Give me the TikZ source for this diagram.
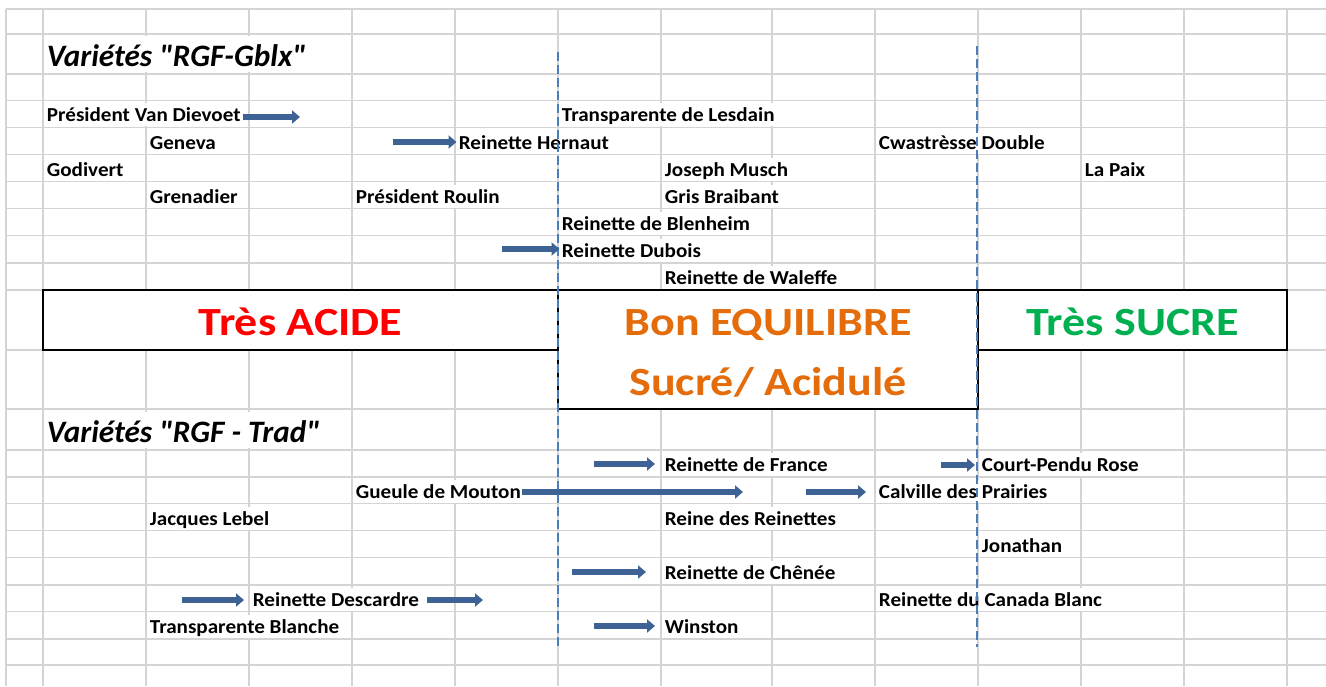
\documentclass[tikz,border=0pt]{standalone}
\usepackage{fontspec}
\setmainfont{Carlito}
\newfontfamily\cellfont{Carlito}[FakeStretch=1.066]
\newfontfamily\zonefont{Carlito}[FakeStretch=1.15]
\usetikzlibrary{arrows.meta}

\definecolor{gridgray}{RGB}{212,212,212}
\definecolor{lineblue}{RGB}{74,126,187}
\definecolor{arrowblue}{RGB}{62,98,148}
\definecolor{acidred}{RGB}{255,0,0}
\definecolor{eqorange}{RGB}{228,108,10}
\definecolor{sugargreen}{RGB}{0,176,80}

\tikzset{
  gridline/.style={draw=gridgray, line width=0.6pt},
  cell/.style={anchor=base west, fill=white, inner xsep=1pt, inner ysep=0pt,
    text height=9.25pt, text depth=2.25pt, font=\cellfont\fontsize{9.9}{12}\selectfont\bfseries},
  heading/.style={anchor=base west, fill=white, inner xsep=1pt, inner ysep=0pt,
    text height=15pt, text depth=3pt, font=\fontsize{15.6}{19}\selectfont\bfseries\itshape},
  zone/.style={draw=black, line width=1.2pt, fill=white},
  zonetext/.style={anchor=base, font=\zonefont\fontsize{20}{24}\selectfont\bfseries},
  frontier/.style={draw=lineblue, line width=1pt, dash pattern=on 4.5pt off 2pt},
  evol/.style={draw=arrowblue, line width=2.75pt, -{Triangle[width=6.5pt,length=4pt]}},
}

\begin{document}
\begin{tikzpicture}[x=0.5pt, y=-0.5pt]
    \useasboundingbox (0,0) rectangle (1326,686);

    % sheet grid
    \foreach \gx in {6,43,146,249,352,455,558,661,772,875,978,1081,1184,1287}
        \draw[gridline] (\gx,9) -- (\gx,686);
    \foreach \gy in {9,34,74,100.3,127.4,154.5,181.6,208.7,235.8,262.9,290,350,409,450,477,503.5,530.7,557.5,585,611.8,639,665}
        \draw[gridline] (6,\gy) -- (1326,\gy);

    % taste zones
    \draw[zone] (43,290) rectangle (558,350);
    \draw[zone] (558,290) rectangle (978,409);
    \draw[zone] (978,290) rectangle (1287,350);
    \node[zonetext, text=acidred] (acide) at (300.5,335) {Très ACIDE};
    \node[zonetext, text=eqorange] (equilibre) at (768,335) {Bon EQUILIBRE};
    \node[zonetext, text=eqorange] (acidule) at (768,395) {Sucré/ Acidulé};
    \node[zonetext, text=sugargreen] (sucre) at (1132.5,335) {Très SUCRE};

    % RGF-Gblx
    \node[heading] (gblx) at (44.5,66) {Variétés \textquotedbl RGF-Gblx\textquotedbl};
    \node[cell] (vandievoet) at (44.5,121.9) {Président Van Dievoet};
    \node[cell] (lesdain) at (559.5,121.9) {Transparente de Lesdain};
    \node[cell] (geneva) at (147.5,149) {Geneva};
    \node[cell] (hernaut) at (456.5,149) {Reinette Hernaut};
    \node[cell] (cwastresse) at (876.5,149) {Cwastrèsse Double};
    \node[cell] (godivert) at (44.5,176.1) {Godivert};
    \node[cell] (musch) at (662.5,176.1) {Joseph Musch};
    \node[cell] (paix) at (1082.5,176.1) {La Paix};
    \node[cell] (grenadier) at (147.5,203.2) {Grenadier};
    \node[cell] (roulin) at (353.5,203.2) {Président Roulin};
    \node[cell] (braibant) at (662.5,203.2) {Gris Braibant};
    \node[cell] (blenheim) at (559.5,230.3) {Reinette de Blenheim};
    \node[cell] (dubois) at (559.5,257.4) {Reinette Dubois};
    \node[cell] (waleffe) at (662.5,284.5) {Reinette de Waleffe};

    % RGF - Trad
    \node[heading] (trad) at (44.5,442) {Variétés \textquotedbl RGF - Trad\textquotedbl};
    \node[cell] (france) at (662.5,471.5) {Reinette de France};
    \node[cell] (courtpendu) at (979.5,471.5) {Court-Pendu Rose};
    \node[cell] (gueule) at (353.5,498) {Gueule de Mouton};
    \node[cell] (calville) at (876.5,498) {Calville des Prairies};
    \node[cell] (lebel) at (147.5,525.2) {Jacques Lebel};
    \node[cell] (reinedes) at (662.5,525.2) {Reine des Reinettes};
    \node[cell] (jonathan) at (979.5,552) {Jonathan};
    \node[cell] (chenee) at (662.5,579.5) {Reinette de Chênée};
    \node[cell] (descardre) at (250.5,606.3) {Reinette Descardre};
    \node[cell] (canada) at (876.5,606.3) {Reinette du Canada Blanc};
    \node[cell] (tblanche) at (147.5,633.5) {Transparente Blanche};
    \node[cell] (winston) at (662.5,633.5) {Winston};

    % zone limits
    \draw[frontier] (557.5,52) -- (557.5,650);
    \draw[frontier] (977,46) -- (977,647);

    % shifts
    \coordinate (t1) at (243,117);  \coordinate (h1) at (300,117);
    \coordinate (t2) at (393,142);
    \coordinate (t3) at (502,249);
    \coordinate (t4) at (594,464);  \coordinate (h4) at (655,464);
    \coordinate (t5) at (522,492);  \coordinate (h5) at (743,492);
    \coordinate (t6) at (806,492);  \coordinate (h6) at (866,492);
    \coordinate (t7) at (941,465);  \coordinate (h7) at (975,465);
    \coordinate (t8) at (572,572);  \coordinate (h8) at (646,572);
    \coordinate (t9) at (182,600);  \coordinate (h9) at (244,600);
    \coordinate (t10) at (427,600); \coordinate (h10) at (483,600);
    \coordinate (t11) at (594,626); \coordinate (h11) at (655,626);
    \draw[evol] (t1) -- (h1);
    \draw[evol] (t2) -- (t2 -| hernaut.west);
    \draw[evol] (t3) -- (t3 -| dubois.west);
    \draw[evol] (t4) -- (h4);
    \draw[evol] (t5) -- (h5);
    \draw[evol] (t6) -- (h6);
    \draw[evol] (t7) -- (h7);
    \draw[evol] (t8) -- (h8);
    \draw[evol] (t9) -- (h9);
    \draw[evol] (t10) -- (h10);
    \draw[evol] (t11) -- (h11);

\end{tikzpicture}
\end{document}
